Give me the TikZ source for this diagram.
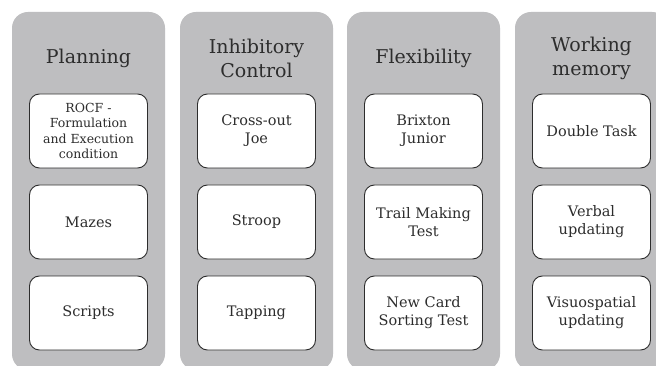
\documentclass[tikz,border=0pt]{standalone}
\usepackage{fontspec}
\setmainfont{DejaVu Serif}
\definecolor{colgray}{RGB}{190,190,192}
\definecolor{inkgray}{RGB}{45,45,45}
\begin{document}
\begin{tikzpicture}[x=1pt, y=-1pt]
	\tikzstyle{column}=[rectangle, fill=colgray, rounded corners=16pt, minimum width=153pt, minimum height=358pt, inner sep=0pt]
	\tikzstyle{title}=[align=center, text=inkgray, font=\fontsize{19}{24}\selectfont]
	\tikzstyle{test}=[rectangle, draw=inkgray, fill=white, line width=0.9pt, rounded corners=10pt, minimum width=118pt, minimum height=74pt, align=center, text=inkgray, font=\fontsize{14.5}{18}\selectfont]
	\clip (0, 0) rectangle (656, 366);
	\fill[white] (0, 0) rectangle (656, 366);
	% columns
	\draw node[column] at (88.5, 191) (c1) {};
	\draw node[column] at (256.5, 191) (c2) {};
	\draw node[column] at (423.5, 191) (c3) {};
	\draw node[column] at (591.5, 191) (c4) {};
	% titles
	\draw node[title] at (88.5, 58) (t1) {Planning};
	\draw node[title] at (256.5, 58) (t2) {Inhibitory\\Control};
	\draw node[title] at (423.5, 58) (t3) {Flexibility};
	\draw node[title] at (591.5, 58) (t4) {Working\\memory};
	% tests
	\draw node[test, font=\fontsize{12.5}{15.5}\selectfont] at (88.5, 131) (p1) {ROCF -\\Formulation\\and Execution\\condition};
	\draw node[test] at (88.5, 222) (p2) {Mazes};
	\draw node[test] at (88.5, 313) (p3) {Scripts};
	\draw node[test] at (256.5, 131) (i1) {Cross-out\\Joe};
	\draw node[test] at (256.5, 222) (i2) {Stroop};
	\draw node[test] at (256.5, 313) (i3) {Tapping};
	\draw node[test] at (423.5, 131) (f1) {Brixton\\Junior};
	\draw node[test] at (423.5, 222) (f2) {Trail Making\\Test};
	\draw node[test] at (423.5, 313) (f3) {New Card\\Sorting Test};
	\draw node[test] at (591.5, 131) (w1) {Double Task};
	\draw node[test] at (591.5, 222) (w2) {Verbal\\updating};
	\draw node[test] at (591.5, 313) (w3) {Visuospatial\\updating};
\end{tikzpicture}
\end{document}
